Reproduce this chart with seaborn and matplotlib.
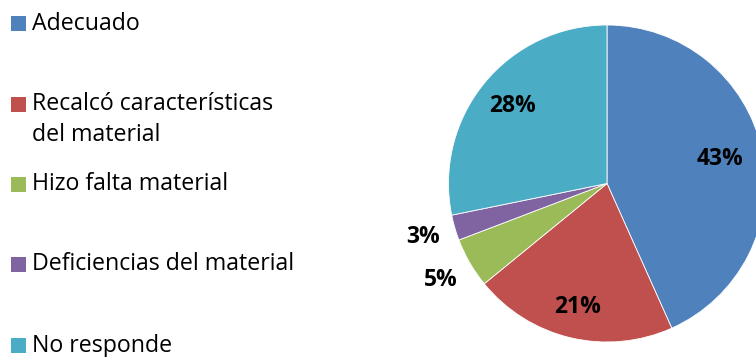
import matplotlib
matplotlib.use("Agg")
import matplotlib.pyplot as plt
import seaborn as sns
from matplotlib.patches import Rectangle
import numpy as np

categories = ["Adecuado", "Recalcó características\ndel material", "Hizo falta material",
              "Deficiencias del material", "No responde"]
values = [43.3, 20.8, 5.1, 2.6, 28.2]
colors = ["#4F81BD", "#C0504D", "#9BBB59", "#8064A2", "#4BACC6"]
label_dist = [0.73, 0.80, 1.21, 1.21, 0.77]
legend_y_px = [23.5, 104, 184.5, 264.5, 345.5]

sns.set_theme(style="white")
plt.rcParams['font.family'] = ['Open Sans', 'DejaVu Sans']

W, H = 756, 357
fig = plt.figure(figsize=(W / 100, H / 100), dpi=100)

cx, cy, r = 607, 183.5, 158.5
ax = fig.add_axes([(cx - r) / W, (H - cy - r) / H, 2 * r / W, 2 * r / H])
wedges, _ = ax.pie(values, colors=colors, startangle=90, counterclock=False,
                   wedgeprops=dict(edgecolor="white", linewidth=0.6))
ax.set_xlim(-1, 1)
ax.set_ylim(-1, 1)
ax.set_aspect("equal")
ax.axis("off")

for w, v, d in zip(wedges, values, label_dist):
    ang = np.deg2rad((w.theta1 + w.theta2) / 2)
    ax.text(d * np.cos(ang), d * np.sin(ang), f"{v:.0f}%", ha="center", va="center",
            fontsize=16.5, fontweight="bold", color="black", clip_on=False)

sq = 15
for lab, col, yc in zip(categories, colors, legend_y_px):
    fig.patches.append(Rectangle((11 / W, (H - yc - sq / 2) / H), sq / W, sq / H,
                                 transform=fig.transFigure, facecolor=col, edgecolor="none"))
    for i, line in enumerate(lab.split("\n")):
        fig.text(32 / W, (H - yc - i * 31) / H, line, ha="left", va="center",
                 fontsize=16.7, color="black")

fig.savefig("out.png", dpi=100)
